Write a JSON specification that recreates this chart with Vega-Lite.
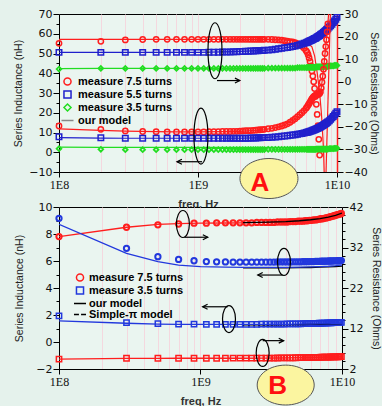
{
"$schema": "https://vega.github.io/schema/vega-lite/v6.json",
"background": "#e5f2ec",
"padding": {"left": 13, "top": 7, "right": 0, "bottom": 0},
"bounds": "flush",
"spacing": 35,
"config": {
 "view": {"stroke": "#000000", "strokeWidth": 1, "fill": "#eaf5f0"},
 "axis": {"labelFont": "DejaVu Sans", "labelFontSize": 11, "labelColor": "#111111", "titleFont": "Liberation Sans", "titleFontSize": 10.5, "titleFontWeight": "normal", "titleColor": "#222222", "domainColor": "#000000", "tickColor": "#000000", "grid": false, "labelOverlap": false},
 "axisX": {"labelFont": "Liberation Sans Narrow", "labelFontSize": 12, "titleFontSize": 11, "titleFontWeight": "bold", "titleColor": "#333333"}
},
"datasets": {
 "aM": [
{"f":1e8,"rL":13.3,"bL":7.9,"gL":1.8,"rR":17.0,"bR":13.0,"gR":5.6},
{"f":2e8,"rL":11.6,"bL":7.3,"gL":1.5,"rR":17.9,"bR":13.0,"gR":5.9},
{"f":3e8,"rL":10.8,"bL":7.1,"gL":1.3,"rR":18.5,"bR":13.0,"gR":5.9},
{"f":4e8,"rL":10.5,"bL":7.1,"gL":1.3,"rR":18.7,"bR":13.0,"gR":5.9},
{"f":5e8,"rL":10.4,"bL":7.1,"gL":1.3,"rR":18.8,"bR":13.0,"gR":5.9},
{"f":6e8,"rL":10.3,"bL":7.1,"gL":1.3,"rR":18.8,"bR":13.0,"gR":5.9},
{"f":7e8,"rL":10.3,"bL":7.1,"gL":1.3,"rR":18.8,"bR":13.0,"gR":5.9},
{"f":8e8,"rL":10.3,"bL":7.1,"gL":1.3,"rR":18.8,"bR":13.0,"gR":5.9},
{"f":9e8,"rL":10.3,"bL":7.1,"gL":1.3,"rR":18.8,"bR":13.0,"gR":5.9},
{"f":1e9,"rL":10.3,"bL":7.1,"gL":1.3,"rR":18.8,"bR":13.0,"gR":5.9},
{"f":1.1e9,"rL":10.3,"bL":7.1,"gL":1.3,"rR":18.8,"bR":13.0,"gR":5.9},
{"f":1.2e9,"rL":10.4,"bL":7.1,"gL":1.3,"rR":18.8,"bR":13.1,"gR":5.9},
{"f":1.3e9,"rL":10.4,"bL":7.1,"gL":1.3,"rR":18.8,"bR":13.1,"gR":5.9},
{"f":1.4e9,"rL":10.4,"bL":7.1,"gL":1.3,"rR":18.8,"bR":13.1,"gR":5.9},
{"f":1.5e9,"rL":10.5,"bL":7.1,"gL":1.3,"rR":18.8,"bR":13.2,"gR":5.9},
{"f":1.6e9,"rL":10.5,"bL":7.1,"gL":1.3,"rR":18.8,"bR":13.2,"gR":5.9},
{"f":1.7e9,"rL":10.5,"bL":7.1,"gL":1.3,"rR":18.8,"bR":13.2,"gR":5.9},
{"f":1.8e9,"rL":10.6,"bL":7.1,"gL":1.3,"rR":18.8,"bR":13.3,"gR":5.9},
{"f":1.9e9,"rL":10.6,"bL":7.1,"gL":1.3,"rR":18.8,"bR":13.3,"gR":5.9},
{"f":2e9,"rL":10.7,"bL":7.1,"gL":1.3,"rR":18.8,"bR":13.4,"gR":5.9},
{"f":2.1e9,"rL":10.8,"bL":7.1,"gL":1.3,"rR":18.8,"bR":13.4,"gR":5.9},
{"f":2.2e9,"rL":10.9,"bL":7.1,"gL":1.3,"rR":18.8,"bR":13.5,"gR":5.9},
{"f":2.3e9,"rL":10.9,"bL":7.1,"gL":1.3,"rR":18.8,"bR":13.5,"gR":5.9},
{"f":2.4e9,"rL":11.0,"bL":7.2,"gL":1.3,"rR":18.8,"bR":13.6,"gR":5.9},
{"f":2.5e9,"rL":11.1,"bL":7.2,"gL":1.3,"rR":18.8,"bR":13.6,"gR":5.9},
{"f":2.6e9,"rL":11.2,"bL":7.2,"gL":1.3,"rR":18.8,"bR":13.7,"gR":5.9},
{"f":2.7e9,"rL":11.3,"bL":7.3,"gL":1.3,"rR":18.8,"bR":13.7,"gR":5.9},
{"f":2.8e9,"rL":11.4,"bL":7.3,"gL":1.3,"rR":18.8,"bR":13.8,"gR":5.9},
{"f":2.9e9,"rL":11.5,"bL":7.4,"gL":1.3,"rR":18.8,"bR":13.8,"gR":5.9},
{"f":3e9,"rL":11.6,"bL":7.4,"gL":1.3,"rR":18.8,"bR":13.9,"gR":5.9},
{"f":3.2e9,"rL":11.9,"bL":7.5,"gL":1.4,"rR":18.8,"bR":14.0,"gR":6.0},
{"f":3.4e9,"rL":12.1,"bL":7.6,"gL":1.4,"rR":18.7,"bR":14.2,"gR":6.0},
{"f":3.6e9,"rL":12.5,"bL":7.7,"gL":1.4,"rR":18.6,"bR":14.4,"gR":6.0},
{"f":3.8e9,"rL":12.9,"bL":7.9,"gL":1.4,"rR":18.5,"bR":14.6,"gR":6.0},
{"f":4e9,"rL":13.3,"bL":8.1,"gL":1.4,"rR":18.4,"bR":14.8,"gR":6.0},
{"f":4.2e9,"rL":13.8,"bL":8.2,"gL":1.4,"rR":18.2,"bR":15.0,"gR":6.0},
{"f":4.4e9,"rL":14.4,"bL":8.4,"gL":1.4,"rR":18.0,"bR":15.2,"gR":6.0},
{"f":4.6e9,"rL":15.2,"bL":8.6,"gL":1.4,"rR":17.8,"bR":15.4,"gR":6.0},
{"f":4.8e9,"rL":16.1,"bL":8.7,"gL":1.4,"rR":17.6,"bR":15.6,"gR":6.0},
{"f":5e9,"rL":17.0,"bL":8.9,"gL":1.4,"rR":17.3,"bR":15.8,"gR":6.0},
{"f":5.2e9,"rL":18.0,"bL":9.1,"gL":1.5,"rR":16.9,"bR":16.1,"gR":6.2},
{"f":5.4e9,"rL":19.0,"bL":9.3,"gL":1.5,"rR":16.4,"bR":16.4,"gR":6.2},
{"f":5.6e9,"rL":20.0,"bL":9.5,"gL":1.5,"rR":15.7,"bR":16.7,"gR":6.2},
{"f":5.8e9,"rL":21.1,"bL":9.7,"gL":1.5,"rR":14.8,"bR":17.0,"gR":6.2},
{"f":6e9,"rL":22.3,"bL":10.0,"gL":1.5,"rR":13.7,"bR":17.3,"gR":6.2},
{"f":6.1e9,"rL":23.0,"bL":10.1,"gL":1.5,"rR":13.0,"bR":17.5,"gR":6.4},
{"f":6.2e9,"rL":23.8,"bL":10.3,"gL":1.5,"rR":12.0,"bR":17.7,"gR":6.4},
{"f":6.3e9,"rL":24.6,"bL":10.4,"gL":1.5,"rR":10.5,"bR":17.9,"gR":6.4},
{"f":6.4e9,"rL":25.4,"bL":10.6,"gL":1.5,"rR":9.0,"bR":18.1,"gR":6.4},
{"f":6.5e9,"rL":26.2,"bL":10.7,"gL":1.5,"rR":7.0,"bR":18.3,"gR":6.4},
{"f":6.6e9,"rL":27.0,"bL":10.9,"gL":1.5,"rR":4.8,"bR":18.5,"gR":6.4},
{"f":6.7e9,"rL":27.6,"bL":11.1,"gL":1.5,"rR":2.5,"bR":18.7,"gR":6.4},
{"f":6.8e9,"rL":28.1,"bL":11.3,"gL":1.5,"rR":0.0,"bR":18.9,"gR":6.4},
{"f":6.9e9,"rL":28.5,"bL":11.4,"gL":1.5,"rR":-3.0,"bR":19.1,"gR":6.4},
{"f":7e9,"rL":28.8,"bL":11.6,"gL":1.5,"rR":-6.5,"bR":19.3,"gR":6.4},
{"f":7.1e9,"rL":29.0,"bL":11.8,"gL":1.6,"rR":-10.0,"bR":19.5,"gR":6.6},
{"f":7.2e9,"rL":29.2,"bL":12.0,"gL":1.6,"rR":-14.5,"bR":19.8,"gR":6.6},
{"f":7.3e9,"rL":29.3,"bL":12.2,"gL":1.6,"rR":-19.5,"bR":20.0,"gR":6.6},
{"f":7.4e9,"rL":29.5,"bL":12.4,"gL":1.6,"rR":-25.5,"bR":20.3,"gR":6.6},
{"f":7.5e9,"rL":29.8,"bL":12.6,"gL":1.6,"rR":-32.5,"bR":20.5,"gR":6.6},
{"f":7.6e9,"rL":30.5,"bL":12.8,"gL":1.6,"bR":20.8,"gR":6.6},
{"f":7.7e9,"rL":32.5,"bL":13.1,"gL":1.6,"bR":21.0,"gR":6.6},
{"f":7.8e9,"rL":35.5,"bL":13.3,"gL":1.6,"bR":21.3,"gR":6.6},
{"f":7.9e9,"rL":38.5,"bL":13.5,"gL":1.6,"bR":21.5,"gR":6.6},
{"f":8e9,"rL":42.0,"bL":13.8,"gL":1.6,"bR":21.8,"gR":6.6},
{"f":8.1e9,"rL":46.0,"bL":14.0,"gL":1.6,"bR":22.1,"gR":6.8},
{"f":8.2e9,"rL":50.0,"bL":14.3,"gL":1.6,"bR":22.4,"gR":6.8},
{"f":8.3e9,"rL":53.5,"bL":14.5,"gL":1.6,"bR":22.7,"gR":6.8},
{"f":8.4e9,"rL":57.0,"bL":14.8,"gL":1.6,"bR":23.0,"gR":6.8},
{"f":8.5e9,"rL":61.0,"bL":15.1,"gL":1.6,"bR":23.3,"gR":6.8},
{"f":8.6e9,"rL":65.0,"bL":15.4,"gL":1.6,"bR":23.6,"gR":6.8},
{"f":8.8e9,"bL":16.0,"gL":1.8,"bR":24.2,"gR":7.0},
{"f":9e9,"bL":16.7,"gL":1.8,"bR":24.8,"gR":7.0},
{"f":9.2e9,"bL":17.4,"gL":1.8,"bR":25.5,"gR":7.0},
{"f":9.4e9,"bL":18.1,"gL":1.8,"bR":26.2,"gR":7.0},
{"f":9.6e9,"bL":18.9,"gL":2.0,"bR":26.9,"gR":7.2},
{"f":9.8e9,"bL":19.7,"gL":2.0,"bR":27.7,"gR":7.2},
{"f":1e10,"bL":20.5,"gL":2.0,"bR":28.5,"gR":7.2}
 ],
 "aLine": [
{"f":1e8,"mrL":11.8,"mbL":7.4,"mgL":2.6,"mrR":18.8,"mbR":13.0,"mgR":5.8},
{"f":2e8,"mrL":11.1,"mbL":7.2,"mgL":2.5,"mrR":18.8,"mbR":13.0,"mgR":5.9},
{"f":3e8,"mrL":10.7,"mbL":7.1,"mgL":2.5,"mrR":18.8,"mbR":13.0,"mgR":5.9},
{"f":5e8,"mrL":10.4,"mbL":7.1,"mgL":2.5,"mrR":18.8,"mbR":13.0,"mgR":5.9},
{"f":7e8,"mrL":10.3,"mbL":7.1,"mgL":2.5,"mrR":18.8,"mbR":13.0,"mgR":5.9},
{"f":1e9,"mrL":10.3,"mbL":7.1,"mgL":2.5,"mrR":18.8,"mbR":13.0,"mgR":5.9},
{"f":1.5e9,"mrL":10.4,"mbL":7.1,"mgL":2.5,"mrR":18.8,"mbR":13.2,"mgR":5.9},
{"f":2e9,"mrL":10.6,"mbL":7.1,"mgL":2.5,"mrR":18.8,"mbR":13.4,"mgR":5.9},
{"f":3e9,"mrL":11.4,"mbL":7.4,"mgL":2.5,"mrR":18.8,"mbR":13.9,"mgR":6.0},
{"f":4e9,"mrL":13.1,"mbL":8.1,"mgL":2.5,"mrR":18.6,"mbR":14.8,"mgR":6.0},
{"f":5e9,"mrL":16.8,"mbL":8.9,"mgL":2.5,"mrR":18.0,"mbR":15.8,"mgR":6.1},
{"f":5.5e9,"mrL":19.2,"mbL":9.4,"mgL":2.5,"mrR":17.6,"mbR":16.5,"mgR":6.2},
{"f":6e9,"mrL":22.2,"mbL":10.0,"mgL":2.5,"mrR":17.2,"mbR":17.3,"mgR":6.3},
{"f":6.3e9,"mrL":24.4,"mbL":10.4,"mgL":2.5,"mrR":16.5,"mbR":17.9,"mgR":6.4},
{"f":6.6e9,"mrL":26.8,"mbL":10.9,"mgL":2.5,"mrR":15.5,"mbR":18.5,"mgR":6.4},
{"f":6.9e9,"mrL":28.5,"mbL":11.4,"mgL":2.5,"mrR":11.5,"mbR":19.1,"mgR":6.5},
{"f":7.2e9,"mrL":29.2,"mbL":12.0,"mgL":2.5,"mrR":4.0,"mbR":19.8,"mgR":6.6},
{"f":7.5e9,"mrL":29.8,"mbL":12.6,"mgL":2.5,"mrR":-5.0,"mbR":20.5,"mgR":6.6},
{"f":7.7e9,"mrL":32.5,"mbL":13.1,"mgL":2.5,"mrR":-13.0,"mbR":21.0,"mgR":6.7},
{"f":7.8e9,"mrL":35.5,"mbL":13.3,"mgL":2.5,"mrR":-18.0,"mbR":21.3,"mgR":6.7},
{"f":8e9,"mrL":42.0,"mbL":13.8,"mgL":2.5,"mrR":-30.0,"mbR":21.8,"mgR":6.7},
{"f":8.1e9,"mrL":46.0,"mbL":14.0,"mgL":2.5,"mrR":-42.0,"mbR":22.1,"mgR":6.8},
{"f":8.3e9,"mrL":53.5,"mbL":14.5,"mgL":2.5,"mbR":22.7,"mgR":6.8},
{"f":8.6e9,"mrL":65.0,"mbL":15.4,"mgL":2.6,"mbR":23.6,"mgR":6.8},
{"f":8.8e9,"mrL":75.0,"mbL":16.0,"mgL":2.6,"mbR":24.2,"mgR":7.0},
{"f":9e9,"mbL":16.7,"mgL":2.6,"mbR":24.8,"mgR":7.0},
{"f":1e10,"mbL":20.5,"mgL":2.7,"mbR":28.5,"mgR":7.2}
 ],
 "aX": [{"f":8.3e9,"v":-15.4},{"f":9e9,"v":74.9}],
 "annA": [{"f":1.325e9,"v":51.4},{"f":1.05e9,"v":8.2}],
 "arrA": [{"f":1.37e9,"f2":2.0e9,"v":36.3},{"f":1.07e9,"f2":7.06e8,"v":-4.8}],
 "labA": [{"f":3.24e9,"v":-13.3,"t":"A"}],
 "bM": [
{"f":1e8,"rc":34.7,"bc":9.16,"bs":1.93,"rs":4.45},
{"f":3e8,"rc":37.0,"bc":6.94,"bs":1.43,"rs":4.65},
{"f":5e8,"rc":37.6,"bc":6.32,"bs":1.36,"rs":4.65},
{"f":7e8,"rc":37.8,"bc":6.12,"bs":1.33,"rs":4.65},
{"f":9e8,"rc":38.0,"bc":6.02,"bs":1.32,"rs":4.65},
{"f":1.1e9,"rc":38.0,"bc":5.96,"bs":1.31,"rs":4.65},
{"f":1.3e9,"rc":38.1,"bc":5.94,"bs":1.31,"rs":4.65},
{"f":1.5e9,"rc":38.1,"bc":5.93,"bs":1.31,"rs":4.65},
{"f":1.7e9,"rc":38.1,"bc":5.92,"bs":1.31,"rs":4.66},
{"f":1.9e9,"rc":38.1,"bc":5.92,"bs":1.31,"rs":4.66},
{"f":2.1e9,"rc":38.1,"bc":5.92,"bs":1.31,"rs":4.67},
{"f":2.3e9,"rc":38.1,"bc":5.92,"bs":1.31,"rs":4.67},
{"f":2.5e9,"rc":38.2,"bc":5.92,"bs":1.31,"rs":4.68},
{"f":2.7e9,"rc":38.2,"bc":5.92,"bs":1.32,"rs":4.68},
{"f":2.9e9,"rc":38.2,"bc":5.92,"bs":1.32,"rs":4.69},
{"f":3.1e9,"rc":38.2,"bc":5.92,"bs":1.32,"rs":4.70},
{"f":3.3e9,"rc":38.2,"bc":5.92,"bs":1.32,"rs":4.71},
{"f":3.5e9,"rc":38.3,"bc":5.93,"bs":1.33,"rs":4.72},
{"f":3.7e9,"rc":38.3,"bc":5.93,"bs":1.33,"rs":4.73},
{"f":3.9e9,"rc":38.3,"bc":5.93,"bs":1.33,"rs":4.74},
{"f":4.1e9,"rc":38.3,"bc":5.93,"bs":1.34,"rs":4.75},
{"f":4.3e9,"rc":38.4,"bc":5.93,"bs":1.34,"rs":4.76},
{"f":4.5e9,"rc":38.4,"bc":5.94,"bs":1.34,"rs":4.77},
{"f":4.7e9,"rc":38.4,"bc":5.94,"bs":1.35,"rs":4.78},
{"f":4.9e9,"rc":38.5,"bc":5.94,"bs":1.35,"rs":4.79},
{"f":5.1e9,"rc":38.5,"bc":5.94,"bs":1.35,"rs":4.80},
{"f":5.3e9,"rc":38.5,"bc":5.95,"bs":1.36,"rs":4.81},
{"f":5.5e9,"rc":38.6,"bc":5.95,"bs":1.36,"rs":4.82},
{"f":5.7e9,"rc":38.6,"bc":5.95,"bs":1.36,"rs":4.83},
{"f":5.9e9,"rc":38.7,"bc":5.96,"bs":1.37,"rs":4.84},
{"f":6.1e9,"rc":38.7,"bc":5.96,"bs":1.37,"rs":4.85},
{"f":6.3e9,"rc":38.8,"bc":5.96,"bs":1.38,"rs":4.86},
{"f":6.5e9,"rc":38.8,"bc":5.97,"bs":1.38,"rs":4.87},
{"f":6.7e9,"rc":38.9,"bc":5.97,"bs":1.38,"rs":4.88},
{"f":6.9e9,"rc":39.0,"bc":5.97,"bs":1.39,"rs":4.89},
{"f":7.1e9,"rc":39.1,"bc":5.98,"bs":1.39,"rs":4.90},
{"f":7.3e9,"rc":39.1,"bc":5.98,"bs":1.40,"rs":4.91},
{"f":7.5e9,"rc":39.2,"bc":5.98,"bs":1.40,"rs":4.92},
{"f":7.7e9,"rc":39.3,"bc":5.99,"bs":1.40,"rs":4.93},
{"f":7.9e9,"rc":39.4,"bc":5.99,"bs":1.41,"rs":4.94},
{"f":8.1e9,"rc":39.5,"bc":6.00,"bs":1.41,"rs":4.95},
{"f":8.3e9,"rc":39.6,"bc":6.00,"bs":1.42,"rs":4.96},
{"f":8.5e9,"rc":39.7,"bc":6.00,"bs":1.42,"rs":4.97},
{"f":8.7e9,"rc":39.8,"bc":6.01,"bs":1.43,"rs":4.98},
{"f":8.9e9,"rc":39.9,"bc":6.01,"bs":1.43,"rs":4.99},
{"f":9.1e9,"rc":40.0,"bc":6.01,"bs":1.44,"rs":5.00},
{"f":9.3e9,"rc":40.1,"bc":6.02,"bs":1.44,"rs":5.01},
{"f":9.5e9,"rc":40.2,"bc":6.02,"bs":1.45,"rs":5.02},
{"f":9.7e9,"rc":40.3,"bc":6.02,"bs":1.45,"rs":5.03},
{"f":9.9e9,"rc":40.4,"bc":6.03,"bs":1.46,"rs":5.04}
 ],
 "bLine": [
{"f":1e8,"mrc":34.7,"mbc":8.72,"mbs":1.56,"mrs":4.45,"pc":38.1,"pb":5.46,"ps":1.21},
{"f":3e8,"mrc":37.0,"mbc":6.57,"mbs":1.39,"mrs":4.62},
{"f":5e8,"mrc":37.7,"mbc":5.95,"mbs":1.33,"mrs":4.64},
{"f":7e8,"mrc":37.9,"mbc":5.70,"mbs":1.31,"mrs":4.65},
{"f":1e9,"mrc":38.0,"mbc":5.58,"mbs":1.30,"mrs":4.65},
{"f":1.5e9,"mrc":38.05,"mbc":5.54,"mbs":1.30,"mrs":4.65},
{"f":2e9,"mrc":38.1,"mbc":5.53,"mbs":1.30,"mrs":4.66,"kc":38.15,"kb":5.50,"ks":1.27},
{"f":3e9,"mrc":38.2,"mbc":5.53,"mbs":1.30,"mrs":4.69,"kc":38.25,"kb":5.50,"ks":1.27},
{"f":4e9,"mrc":38.3,"mbc":5.53,"mbs":1.31,"mrs":4.74,"kc":38.4,"kb":5.50,"ks":1.28},
{"f":5e9,"mrc":38.5,"mbc":5.54,"mbs":1.32,"mrs":4.79,"kc":38.6,"kb":5.51,"ks":1.29},
{"f":6e9,"mrc":38.7,"mbc":5.56,"mbs":1.33,"mrs":4.84,"kc":38.85,"kb":5.52,"ks":1.30},
{"f":7e9,"mrc":39.0,"mbc":5.58,"mbs":1.34,"mrs":4.89,"kc":39.15,"kb":5.54,"ks":1.31},
{"f":8e9,"mrc":39.4,"mbc":5.61,"mbs":1.35,"mrs":4.94,"kc":39.5,"kb":5.56,"ks":1.32},
{"f":9e9,"mrc":39.8,"mbc":5.65,"mbs":1.37,"mrs":4.99,"kc":39.95,"kb":5.59,"ks":1.34},
{"f":1e10,"mrc":40.3,"mbc":5.70,"mbs":1.39,"mrs":5.05,"kc":40.5,"kb":5.62,"ks":1.36,"pc":38.1,"pb":5.46,"ps":1.21}
 ],
 "annB": [{"f":7.51e8,"v":8.74},{"f":3.89e9,"v":5.93},{"f":1.59e9,"v":1.70},{"f":2.75e9,"v":-0.81}],
 "arrB": [{"f":7.69e8,"f2":1.125e9,"v":7.76},{"f":3.81e9,"f2":2.54e9,"v":4.96},{"f":1.556e9,"f2":1.036e9,"v":2.61},{"f":2.75e9,"f2":3.87e9,"v":0.10}],
 "labB": [{"f":4.0e9,"v":-3.19,"t":"B"}]
},
"resolve": {"scale": {"color": "independent", "shape": "independent"}, "legend": {"color": "independent", "shape": "independent"}},
"vconcat": [
 {
  "width": 278, "height": 158,
  "encoding": {"x": {"field": "f", "type": "quantitative", "scale": {"type": "log", "domain": [1e8, 1e10], "nice": false},
    "axis": {"values": [1e8,2e8,3e8,4e8,5e8,6e8,7e8,8e8,9e8,1e9,2e9,3e9,4e9,5e9,6e9,7e9,8e9,9e9,1e10],
      "labelExpr": "datum.value == 100000000 ? '1E8' : datum.value == 1000000000 ? '1E9' : datum.value == 10000000000 ? '1E10' : ''",
      "grid": true, "gridColor": "#f4d8df", "gridWidth": 1, "tickCount": 100,
      "tickSize": {"condition": {"test": "datum.value == 100000000 || datum.value == 1000000000 || datum.value == 10000000000", "value": 5}, "value": 0},
      "labelFlush": false, "labelOverlap": false, "title": "freq, Hz", "titlePadding": 8, "labelPadding": 2}}},
  "layer": [
   {"layer": [
    {"data": {"name": "aLine"}, "mark": {"type": "line", "color": "#ff1e1e", "strokeWidth": 1.2, "clip": true},
     "encoding": {"y": {"field": "mrR", "type": "quantitative", "scale": {"domain": [-40, 30], "nice": false},
       "axis": {"orient": "right", "values": [-40,-35,-30,-25,-20,-15,-10,-5,0,5,10,15,20,25,30], "tickCount": 100, "format": "d",
         "labelExpr": "datum.value % 10 == 0 ? datum.label : ''", "labelOverlap": false,
         "tickSize": {"condition": {"test": "datum.value % 10 == 0", "value": 6}, "value": 3},
         "domainColor": "#ff2020", "domainWidth": 1.5, "title": "Series Resistance (Ohms)", "labelPadding": 1, "titlePadding": 1}}}},
    {"data": {"name": "aLine"}, "mark": {"type": "line", "color": "#2020cc", "strokeWidth": 1.2, "clip": true},
     "encoding": {"y": {"field": "mbR", "type": "quantitative", "scale": {"domain": [-40, 30], "nice": false}}}},
    {"data": {"name": "aLine"}, "mark": {"type": "line", "color": "#22dd22", "strokeWidth": 1.2, "clip": true},
     "encoding": {"y": {"field": "mgR", "type": "quantitative", "scale": {"domain": [-40, 30], "nice": false}}}},
    {"data": {"name": "aM"}, "mark": {"type": "point", "shape": "circle", "filled": false, "color": "#ff1e1e", "size": 28, "strokeWidth": 1.5, "opacity": 1},
     "encoding": {"y": {"field": "rR", "type": "quantitative", "scale": {"domain": [-40, 30], "nice": false}}}},
    {"data": {"name": "aM"}, "mark": {"type": "point", "shape": "square", "filled": false, "color": "#2020cc", "size": 30, "strokeWidth": 1.5, "opacity": 1},
     "encoding": {"y": {"field": "bR", "type": "quantitative", "scale": {"domain": [-40, 30], "nice": false}}}},
    {"data": {"name": "aM"}, "mark": {"type": "point", "shape": "diamond", "filled": false, "color": "#22dd22", "size": 22, "strokeWidth": 1.8, "opacity": 1},
     "encoding": {"y": {"field": "gR", "type": "quantitative", "scale": {"domain": [-40, 30], "nice": false}}}}
   ]},
   {"layer": [
    {"data": {"values": []}, "mark": {"type": "point", "filled": false, "strokeWidth": 1.5, "opacity": 1},
     "encoding": {
      "color": {"field": "k", "type": "nominal", "scale": {"domain": ["r", "b", "g", "m"], "range": ["#ff1e1e", "#2020cc", "#22dd22", "#888888"]},
       "legend": {"orient": "none", "legendX": 3, "legendY": 62, "title": null, "padding": 0,
        "labelFont": "Liberation Sans", "labelFontSize": 11, "labelFontWeight": "bold",
        "labelExpr": "datum.value == 'r' ? 'measure 7.5 turns' : datum.value == 'b' ? 'measure 5.5 turns' : datum.value == 'g' ? 'measure 3.5 turns' : 'our model'",
        "symbolSize": 50, "symbolStrokeWidth": 1.5, "rowPadding": -2.5, "labelOffset": 5,
        "encode": {"labels": {"update": {"fill": {"signal": "datum.value == 'r' ? '#ff1e1e' : datum.value == 'b' ? '#3030c8' : datum.value == 'g' ? '#22dd22' : '#111111'"}}}}}},
      "shape": {"field": "k", "type": "nominal", "scale": {"domain": ["r", "b", "g", "m"], "range": ["circle", "square", "diamond", "M-1.7,0L1.7,0"]}}
     }},
    {"data": {"name": "aLine"}, "mark": {"type": "line", "color": "#ff1e1e", "strokeWidth": 1.2, "clip": true},
     "encoding": {"y": {"field": "mrL", "type": "quantitative", "scale": {"domain": [-10, 70], "nice": false},
       "axis": {"orient": "left", "values": [-10,-5,0,5,10,15,20,25,30,35,40,45,50,55,60,65,70], "tickCount": 100, "format": "d",
         "labelExpr": "datum.value % 10 == 0 ? datum.label : ''", "labelOverlap": false,
         "tickSize": {"condition": {"test": "datum.value % 10 == 0", "value": 6}, "value": 3},
         "title": "Series Inductance (nH)", "labelPadding": 1, "titlePadding": 5}}}},
    {"data": {"name": "aLine"}, "mark": {"type": "line", "color": "#2020cc", "strokeWidth": 1.2, "clip": true},
     "encoding": {"y": {"field": "mbL", "type": "quantitative", "scale": {"domain": [-10, 70], "nice": false}}}},
    {"data": {"name": "aLine"}, "mark": {"type": "line", "color": "#22dd22", "strokeWidth": 1.2, "clip": true},
     "encoding": {"y": {"field": "mgL", "type": "quantitative", "scale": {"domain": [-10, 70], "nice": false}}}},
    {"data": {"name": "aX"}, "mark": {"type": "line", "color": "#ff1e1e", "strokeWidth": 1.2, "clip": true},
     "encoding": {"y": {"field": "v", "type": "quantitative", "scale": {"domain": [-10, 70], "nice": false}}}},
    {"data": {"name": "aM"}, "mark": {"type": "point", "shape": "circle", "filled": false, "color": "#ff1e1e", "size": 28, "strokeWidth": 1.5, "opacity": 1},
     "encoding": {"y": {"field": "rL", "type": "quantitative", "scale": {"domain": [-10, 70], "nice": false}}}},
    {"data": {"name": "aM"}, "mark": {"type": "point", "shape": "square", "filled": false, "color": "#2020cc", "size": 30, "strokeWidth": 1.5, "opacity": 1},
     "encoding": {"y": {"field": "bL", "type": "quantitative", "scale": {"domain": [-10, 70], "nice": false}}}},
    {"data": {"name": "aM"}, "mark": {"type": "point", "shape": "diamond", "filled": false, "color": "#22dd22", "size": 22, "strokeWidth": 1.8, "opacity": 1},
     "encoding": {"y": {"field": "gL", "type": "quantitative", "scale": {"domain": [-10, 70], "nice": false}}}},
    {"data": {"name": "annA"}, "mark": {"type": "point", "shape": "M0,-1A0.25,1,0,1,0,0,1A0.25,1,0,1,0,0,-1Z", "size": 3136, "filled": false, "color": "#000000", "strokeWidth": 1.2, "opacity": 1},
     "encoding": {"y": {"field": "v", "type": "quantitative", "scale": {"domain": [-10, 70], "nice": false}}}},
    {"data": {"name": "arrA"}, "mark": {"type": "rule", "color": "#000000", "strokeWidth": 1.2},
     "encoding": {"x2": {"field": "f2"}, "y": {"field": "v", "type": "quantitative", "scale": {"domain": [-10, 70], "nice": false}}}},
    {"data": {"name": "arrA"}, "transform": [{"filter": "datum.f2 > datum.f"}], "mark": {"type": "point", "shape": "M-2.2,-1.1L0,0L-2.2,1.1", "size": 20, "filled": false, "color": "#000000", "strokeWidth": 1.2, "opacity": 1},
     "encoding": {"x": {"field": "f2", "type": "quantitative", "scale": {"type": "log", "domain": [1e8, 1e10], "nice": false}}, "y": {"field": "v", "type": "quantitative", "scale": {"domain": [-10, 70], "nice": false}}}},
    {"data": {"name": "arrA"}, "transform": [{"filter": "datum.f2 < datum.f"}], "mark": {"type": "point", "shape": "M2.2,-1.1L0,0L2.2,1.1", "size": 20, "filled": false, "color": "#000000", "strokeWidth": 1.2, "opacity": 1},
     "encoding": {"x": {"field": "f2", "type": "quantitative", "scale": {"type": "log", "domain": [1e8, 1e10], "nice": false}}, "y": {"field": "v", "type": "quantitative", "scale": {"domain": [-10, 70], "nice": false}}}},
    {"data": {"name": "labA"}, "mark": {"type": "point", "shape": "M-1,0A1,0.69,0,1,0,1,0A1,0.69,0,1,0,-1,0Z", "size": 3364, "filled": true, "fill": "#fbf5a0", "stroke": "#555555", "strokeWidth": 1, "opacity": 1},
     "encoding": {"y": {"field": "v", "type": "quantitative", "scale": {"domain": [-10, 70], "nice": false}}}},
    {"data": {"name": "labA"}, "mark": {"type": "text", "font": "Liberation Sans", "fontSize": 26, "fontWeight": "bold", "color": "#ff1010", "dx": -9, "dy": 4, "align": "center", "baseline": "middle"},
     "encoding": {"text": {"field": "t"}, "y": {"field": "v", "type": "quantitative", "scale": {"domain": [-10, 70], "nice": false}}}}
   ]}
  ],
  "resolve": {"scale": {"y": "independent"}}
 },
 {
  "width": 283, "height": 162,
  "encoding": {"x": {"field": "f", "type": "quantitative", "scale": {"type": "log", "domain": [1e8, 1e10], "nice": false},
    "axis": {"values": [1e8,2e8,3e8,4e8,5e8,6e8,7e8,8e8,9e8,1e9,2e9,3e9,4e9,5e9,6e9,7e9,8e9,9e9,1e10],
      "labelExpr": "datum.value == 100000000 ? '1E8' : datum.value == 1000000000 ? '1E9' : datum.value == 10000000000 ? '1E10' : ''",
      "grid": true, "gridColor": "#f4d8df", "gridWidth": 1, "tickCount": 100,
      "tickSize": {"condition": {"test": "datum.value == 100000000 || datum.value == 1000000000 || datum.value == 10000000000", "value": 5}, "value": 0},
      "labelFlush": false, "labelOverlap": false, "title": "freq, Hz", "titlePadding": 8, "labelPadding": 2}}},
  "layer": [
   {"layer": [
    {"data": {"name": "bLine"}, "mark": {"type": "line", "color": "#000000", "strokeWidth": 1.2, "strokeDash": [1.5, 1.5], "clip": true},
     "encoding": {"y": {"field": "pc", "type": "quantitative", "scale": {"domain": [2, 42], "nice": false},
       "axis": {"orient": "right", "values": [2,4,6,8,10,12,14,16,18,20,22,24,26,28,30,32,34,36,38,40,42], "tickCount": 100, "format": "d",
         "labelExpr": "(datum.value - 2) % 10 == 0 ? datum.label : ''", "labelOverlap": false,
         "tickSize": {"condition": {"test": "(datum.value - 2) % 10 == 0", "value": 6}, "value": 3},
         "title": "Series Resistance (Ohms)", "labelPadding": 1, "titlePadding": 8}}}},
    {"data": {"name": "bM"}, "mark": {"type": "point", "shape": "circle", "filled": false, "color": "#ff1e1e", "size": 28, "strokeWidth": 2, "opacity": 1},
     "encoding": {"y": {"field": "rc", "type": "quantitative", "scale": {"domain": [2, 42], "nice": false}}}},
    {"data": {"name": "bM"}, "mark": {"type": "point", "shape": "square", "filled": false, "color": "#ff1e1e", "size": 28, "strokeWidth": 1.5, "opacity": 1},
     "encoding": {"y": {"field": "rs", "type": "quantitative", "scale": {"domain": [2, 42], "nice": false}}}},
    {"data": {"name": "bLine"}, "mark": {"type": "line", "color": "#ff1e1e", "strokeWidth": 1.3, "clip": true},
     "encoding": {"y": {"field": "mrc", "type": "quantitative", "scale": {"domain": [2, 42], "nice": false}}}},
    {"data": {"name": "bLine"}, "mark": {"type": "line", "color": "#ff1e1e", "strokeWidth": 1.3, "clip": true},
     "encoding": {"y": {"field": "mrs", "type": "quantitative", "scale": {"domain": [2, 42], "nice": false}}}},
    {"data": {"name": "bLine"}, "mark": {"type": "line", "color": "#000000", "strokeWidth": 1.3, "clip": true},
     "encoding": {"y": {"field": "kc", "type": "quantitative", "scale": {"domain": [2, 42], "nice": false}}}}
   ]},
   {"layer": [
    {"data": {"values": []}, "mark": {"type": "point", "filled": false, "strokeWidth": 1.5, "opacity": 1},
     "encoding": {
      "color": {"field": "k", "type": "nominal", "scale": {"domain": ["r", "b", "k", "p"], "range": ["#ff1e1e", "#2238dd", "#000000", "#000000"]},
       "legend": {"orient": "none", "legendX": 15.5, "legendY": 65, "title": null, "padding": 0,
        "labelFont": "Liberation Sans", "labelFontSize": 11, "labelFontWeight": "bold",
        "labelExpr": "datum.value == 'r' ? 'measure 7.5 turns' : datum.value == 'b' ? 'measure 3.5 turns' : datum.value == 'k' ? 'our model' : 'Simple-π model'",
        "symbolSize": 50, "symbolStrokeWidth": 1.5, "rowPadding": -2.5, "labelOffset": 3.5,
        "encode": {"labels": {"update": {"fill": {"signal": "datum.value == 'r' ? '#ff1e1e' : datum.value == 'b' ? '#1e80e0' : '#111111'"}}}}}},
      "shape": {"field": "k", "type": "nominal", "scale": {"domain": ["r", "b", "k", "p"], "range": ["circle", "square", "M-1.7,0L1.7,0", "M-1.7,0L-0.3,0M0.3,0L1.7,0"]}}
     }},
    {"data": {"name": "bLine"}, "mark": {"type": "line", "color": "#000000", "strokeWidth": 1.2, "strokeDash": [1.5, 1.5], "clip": true},
     "encoding": {"y": {"field": "pb", "type": "quantitative", "scale": {"domain": [-2, 10], "nice": false},
       "axis": {"orient": "left", "values": [-2,-1,0,1,2,3,4,5,6,7,8,9,10], "tickCount": 100, "format": "d",
         "labelExpr": "datum.value % 2 == 0 ? datum.label : ''", "labelOverlap": false,
         "tickSize": {"condition": {"test": "datum.value % 2 == 0", "value": 6}, "value": 3},
         "title": "Series Inductance (nH)", "labelPadding": 1, "titlePadding": 11}}}},
    {"data": {"name": "bLine"}, "mark": {"type": "line", "color": "#000000", "strokeWidth": 1.2, "strokeDash": [1.5, 1.5], "clip": true},
     "encoding": {"y": {"field": "ps", "type": "quantitative", "scale": {"domain": [-2, 10], "nice": false}}}},
    {"data": {"name": "bM"}, "mark": {"type": "point", "shape": "circle", "filled": false, "color": "#2238dd", "size": 28, "strokeWidth": 2, "opacity": 1},
     "encoding": {"y": {"field": "bc", "type": "quantitative", "scale": {"domain": [-2, 10], "nice": false}}}},
    {"data": {"name": "bM"}, "mark": {"type": "point", "shape": "square", "filled": false, "color": "#2238dd", "size": 28, "strokeWidth": 1.5, "opacity": 1},
     "encoding": {"y": {"field": "bs", "type": "quantitative", "scale": {"domain": [-2, 10], "nice": false}}}},
    {"data": {"name": "bLine"}, "mark": {"type": "line", "color": "#000000", "strokeWidth": 1.3, "clip": true},
     "encoding": {"y": {"field": "kb", "type": "quantitative", "scale": {"domain": [-2, 10], "nice": false}}}},
    {"data": {"name": "bLine"}, "mark": {"type": "line", "color": "#000000", "strokeWidth": 1.3, "clip": true},
     "encoding": {"y": {"field": "ks", "type": "quantitative", "scale": {"domain": [-2, 10], "nice": false}}}},
    {"data": {"name": "bLine"}, "mark": {"type": "line", "color": "#2238dd", "strokeWidth": 1.3, "clip": true},
     "encoding": {"y": {"field": "mbc", "type": "quantitative", "scale": {"domain": [-2, 10], "nice": false}}}},
    {"data": {"name": "bLine"}, "mark": {"type": "line", "color": "#2238dd", "strokeWidth": 1.3, "clip": true},
     "encoding": {"y": {"field": "mbs", "type": "quantitative", "scale": {"domain": [-2, 10], "nice": false}}}},
    {"data": {"name": "annB"}, "mark": {"type": "point", "shape": "M0,-1A0.48,1,0,1,0,0,1A0.48,1,0,1,0,0,-1Z", "size": 729, "filled": false, "color": "#000000", "strokeWidth": 1.2, "opacity": 1},
     "encoding": {"y": {"field": "v", "type": "quantitative", "scale": {"domain": [-2, 10], "nice": false}}}},
    {"data": {"name": "arrB"}, "mark": {"type": "rule", "color": "#000000", "strokeWidth": 1.2},
     "encoding": {"x2": {"field": "f2"}, "y": {"field": "v", "type": "quantitative", "scale": {"domain": [-2, 10], "nice": false}}}},
    {"data": {"name": "arrB"}, "transform": [{"filter": "datum.f2 > datum.f"}], "mark": {"type": "point", "shape": "M-2.2,-1.1L0,0L-2.2,1.1", "size": 20, "filled": false, "color": "#000000", "strokeWidth": 1.2, "opacity": 1},
     "encoding": {"x": {"field": "f2", "type": "quantitative", "scale": {"type": "log", "domain": [1e8, 1e10], "nice": false}}, "y": {"field": "v", "type": "quantitative", "scale": {"domain": [-2, 10], "nice": false}}}},
    {"data": {"name": "arrB"}, "transform": [{"filter": "datum.f2 < datum.f"}], "mark": {"type": "point", "shape": "M2.2,-1.1L0,0L2.2,1.1", "size": 20, "filled": false, "color": "#000000", "strokeWidth": 1.2, "opacity": 1},
     "encoding": {"x": {"field": "f2", "type": "quantitative", "scale": {"type": "log", "domain": [1e8, 1e10], "nice": false}}, "y": {"field": "v", "type": "quantitative", "scale": {"domain": [-2, 10], "nice": false}}}},
    {"data": {"name": "labB"}, "mark": {"type": "point", "shape": "M-1,0A1,0.7,0,1,0,1,0A1,0.7,0,1,0,-1,0Z", "size": 3249, "filled": true, "fill": "#fbf5a0", "stroke": "#555555", "strokeWidth": 1, "opacity": 1},
     "encoding": {"y": {"field": "v", "type": "quantitative", "scale": {"domain": [-2, 10], "nice": false}}}},
    {"data": {"name": "labB"}, "mark": {"type": "text", "font": "Liberation Sans", "fontSize": 26, "fontWeight": "bold", "color": "#ff1010", "dx": -8, "dy": 1, "align": "center", "baseline": "middle"},
     "encoding": {"text": {"field": "t"}, "y": {"field": "v", "type": "quantitative", "scale": {"domain": [-2, 10], "nice": false}}}}
   ]}
  ],
  "resolve": {"scale": {"y": "independent"}}
 }
]
}
